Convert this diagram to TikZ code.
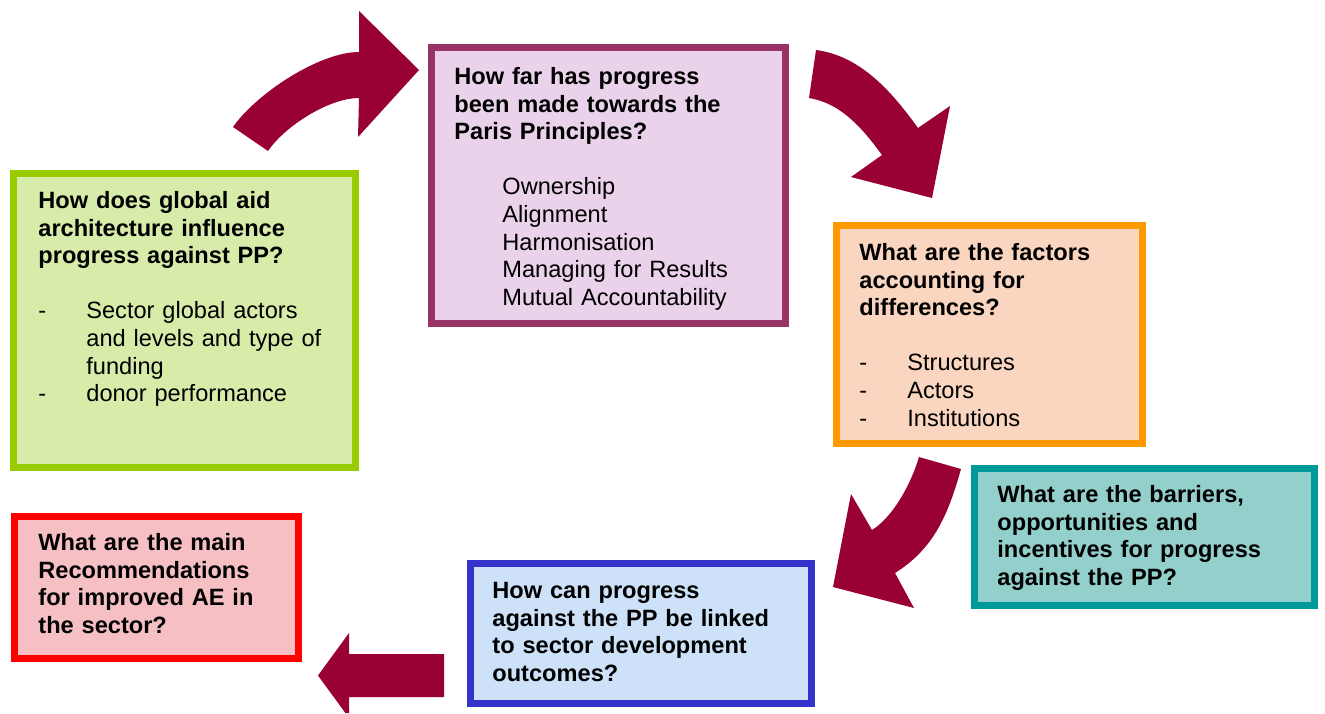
\documentclass[tikz,border=0pt]{standalone}
\usepackage{fontspec}
\setmainfont{Liberation Sans}

\definecolor{arrowred}{HTML}{990033}
\definecolor{aidgreen}{HTML}{99CC00}
\definecolor{aidgreenfill}{HTML}{D8ECAA}
\definecolor{parispurple}{HTML}{993366}
\definecolor{parisfill}{HTML}{EAD2EA}
\definecolor{factorsorange}{HTML}{FF9900}
\definecolor{factorsfill}{HTML}{FAD6C0}
\definecolor{barrierteal}{HTML}{009999}
\definecolor{barrierfill}{HTML}{93CFCB}
\definecolor{outcomeblue}{HTML}{3333CC}
\definecolor{outcomefill}{HTML}{CDE2F8}
\definecolor{recsred}{HTML}{FF0000}
\definecolor{recsfill}{HTML}{F6BFC3}

% list helpers: dash with a tab, and the tab alone
\newcommand{\dashitem}{\makebox[24pt][l]{-}}
\newcommand{\tabgap}{\hspace*{24pt}}

\begin{document}
\begin{tikzpicture}[
    x=0.5pt, y=-0.5pt,
    every node/.style={font=\fontsize{11.8pt}{13.8pt}\selectfont},
    qbox/.style={rectangle, line width=3.5pt, inner sep=0pt},
    qtext/.style={anchor=base west, inner sep=0pt, text width=170pt, align=left},
    cyclearrow/.style={fill=arrowred, draw=none}
]
\useasboundingbox (0,0) rectangle (1325,713);

% Boxes
\node[qbox, draw=aidgreen, fill=aidgreenfill, minimum width=171pt, minimum height=147pt] (aid) at (184.5,320.5) {};
\node[qbox, draw=parispurple, fill=parisfill, minimum width=177pt, minimum height=138pt] (paris) at (608.5,185.5) {};
\node[qbox, draw=factorsorange, fill=factorsfill, minimum width=153pt, minimum height=109pt] (factors) at (989.5,334.5) {};
\node[qbox, draw=barrierteal, fill=barrierfill, minimum width=170pt, minimum height=68.5pt] (barriers) at (1144.5,537) {};
\node[qbox, draw=outcomeblue, fill=outcomefill, minimum width=170.5pt, minimum height=70pt] (outcomes) at (641,633.5) {};
\node[qbox, draw=recsred, fill=recsfill, minimum width=142pt, minimum height=71pt] (recs) at (156.5,587.5) {};

% Questions
\node[qtext] (aid-q) at (38,208.5) {\textbf{How does global aid\\architecture influence\\progress against PP?}\\[13.8pt]
\dashitem Sector global actors\\
\tabgap and levels and type of\\
\tabgap funding\\
\dashitem donor performance};

\node[qtext] (paris-q) at (454,84.5) {\textbf{How far has progress\\been made towards the\\Paris Principles?}\\[13.8pt]
\tabgap Ownership\\
\tabgap Alignment\\
\tabgap Harmonisation\\
\tabgap Managing for Results\\
\tabgap Mutual Accountability};

\node[qtext] (factors-q) at (859,260.5) {\textbf{What are the factors\\accounting for\\differences?}\\[13.8pt]
\dashitem Structures\\
\dashitem Actors\\
\dashitem Institutions};

\node[qtext] (barriers-q) at (997,502.5) {\textbf{What are the barriers,\\opportunities and\\incentives for progress\\against the PP?}};

\node[qtext] (outcomes-q) at (492,598.5) {\textbf{How can progress\\against the PP be linked\\to sector development\\outcomes?}};

\node[qtext] (recs-q) at (38,550.5) {\textbf{What are the main\\Recommendations\\for improved AE in\\the sector?}};

% Cycle arrows
\fill[cyclearrow] (233,127) .. controls (256,94) and (319,52) .. (359,52)
    -- (359,11) -- (419,70) -- (358,137) -- (359,98)
    .. controls (329,98) and (285,126) .. (268,151) -- cycle;

\fill[cyclearrow] (816,50) .. controls (861,56) and (892,92) .. (918,128)
    -- (950,106) -- (932,198) -- (851,177) -- (882,155)
    .. controls (863,129) and (841,103) .. (809,98) -- cycle;

\fill[cyclearrow] (961,469) .. controls (947.5,517) and (933,549) .. (895,573)
    -- (914,608) -- (833,587) -- (851,494) -- (872,530)
    .. controls (893,517) and (911,484) .. (919,457) -- cycle;

\fill[cyclearrow] (444,654) -- (349,654) -- (349,633) -- (318,675.5)
    -- (345.4,713) -- (349,713) -- (349,697) -- (444,697) -- cycle;

\end{tikzpicture}
\end{document}
